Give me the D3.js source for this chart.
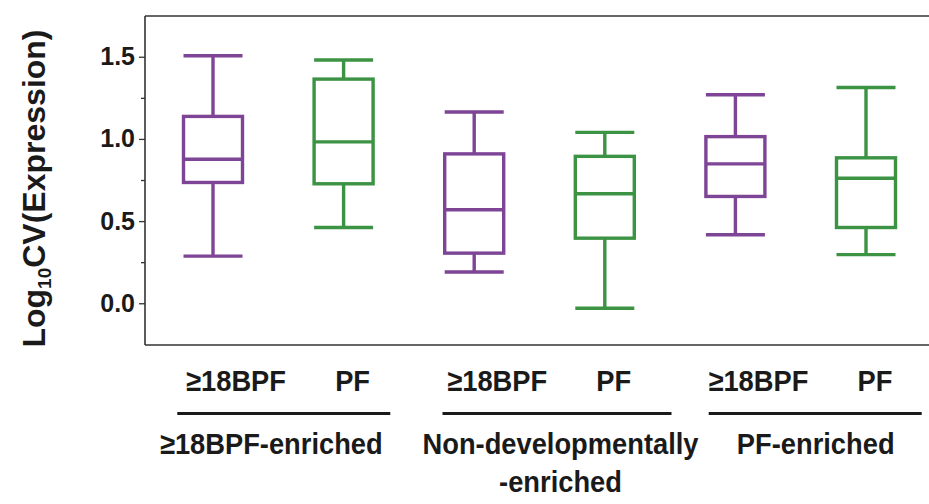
<!DOCTYPE html>
<html>
<head>
<meta charset="utf-8">
<script src="https://cdn.jsdelivr.net/npm/d3@7"></script>
<style>
  html, body { margin: 0; padding: 0; background: #fff; }
  svg { display: block; }
  text { font-family: "Liberation Sans", Arial, sans-serif; fill: #1a1a1a; }
</style>
</head>
<body>
<svg id="chart" width="929" height="504"></svg>
<script>
// ---- data ----
const groups = ["≥18BPF-enriched", "Non-developmentally|-enriched", "PF-enriched"];
const stages = ["≥18BPF", "PF"];
const boxIds = ["g1s1", "g1s2", "g2s1", "g2s2", "g3s1", "g3s2"];
const boxGroup = [0, 0, 1, 1, 2, 2];
const boxStage = [0, 1, 0, 1, 0, 1];
const whiskerLow  = [0.287, 0.461, 0.190, -0.030, 0.417, 0.296];
const q1          = [0.735, 0.727, 0.305, 0.396, 0.650, 0.461];
const median      = [0.876, 0.982, 0.569, 0.666, 0.848, 0.761];
const q3          = [1.137, 1.364, 0.909, 0.894, 1.014, 0.885];
const whiskerHigh = [1.506, 1.480, 1.164, 1.040, 1.269, 1.313];
const yTicks = [0.0, 0.5, 1.0, 1.5];
const yMinorTicks = [0.25, 0.75, 1.25];
const yDomain = [-0.254, 1.748];

// ---- layout ----
const svg = d3.select("#chart");
const plotLeft = 145, plotTop = 16, plotBottom = 345, plotRight = 929;
const colors = ["#7e4596", "#3b9343"];
const boxW = 59;

const y = d3.scaleLinear().domain(yDomain).range([plotBottom, plotTop]);
const x = d3.scalePoint().domain(boxIds).range([213, 866]);

// frame: top and bottom lines
svg.append("line").attr("x1", plotLeft).attr("x2", plotRight)
  .attr("y1", plotTop).attr("y2", plotTop)
  .attr("stroke", "#333").attr("stroke-width", 1.6);
svg.append("line").attr("x1", plotLeft).attr("x2", plotRight)
  .attr("y1", plotBottom).attr("y2", plotBottom)
  .attr("stroke", "#333").attr("stroke-width", 1.6);

// y axis
const yAxis = d3.axisLeft(y).tickValues(yTicks).tickFormat(d3.format(".1f")).tickSize(6).tickPadding(4).tickSizeOuter(0);
const yg = svg.append("g").attr("transform", `translate(${plotLeft},0)`).call(yAxis);
yg.select(".domain").attr("stroke", "#333").attr("stroke-width", 1.6)
  .attr("d", `M0,${plotTop}V${plotBottom}`);
yg.selectAll(".tick line").attr("stroke", "#333").attr("stroke-width", 1.3);
yg.selectAll(".tick text").attr("font-size", 25).attr("font-weight", "bold")
  .attr("fill", "#222").style("font-family", "'Liberation Sans', Arial, sans-serif");
const yMinor = d3.axisLeft(y).tickValues(yMinorTicks).tickSize(4).tickFormat("");
const ymg = svg.append("g").attr("transform", `translate(${plotLeft},0)`).call(yMinor);
ymg.select(".domain").remove();
ymg.selectAll(".tick line").attr("stroke", "#333").attr("stroke-width", 1.3);

// y label
const yl = svg.append("text")
  .attr("transform", `translate(45,${(plotTop + plotBottom) / 2 + 8}) rotate(-90)`)
  .attr("text-anchor", "middle")
  .attr("font-size", 32).attr("font-weight", "bold");
yl.append("tspan").text("Log");
yl.append("tspan").attr("font-size", 19).attr("dy", 6).text("10");
yl.append("tspan").attr("dy", -6).text("CV(Expression)");

// boxes
const data = boxIds.map((id, i) => ({
  id, g: boxGroup[i], s: boxStage[i],
  lo: whiskerLow[i], q1: q1[i], med: median[i], q3: q3[i], hi: whiskerHigh[i]
}));
const bg = svg.append("g").selectAll("g").data(data).join("g")
  .attr("fill", "none")
  .attr("stroke", d => colors[d.s])
  .attr("stroke-width", 3.4);
bg.append("line").attr("x1", d => x(d.id)).attr("x2", d => x(d.id))
  .attr("y1", d => y(d.hi)).attr("y2", d => y(d.q3));
bg.append("line").attr("x1", d => x(d.id)).attr("x2", d => x(d.id))
  .attr("y1", d => y(d.q1)).attr("y2", d => y(d.lo));
bg.append("line").attr("x1", d => x(d.id) - boxW / 2).attr("x2", d => x(d.id) + boxW / 2)
  .attr("y1", d => y(d.hi)).attr("y2", d => y(d.hi));
bg.append("line").attr("x1", d => x(d.id) - boxW / 2).attr("x2", d => x(d.id) + boxW / 2)
  .attr("y1", d => y(d.lo)).attr("y2", d => y(d.lo));
bg.append("rect").attr("x", d => x(d.id) - boxW / 2).attr("width", boxW)
  .attr("y", d => y(d.q3)).attr("height", d => y(d.q1) - y(d.q3));
bg.append("line").attr("x1", d => x(d.id) - boxW / 2).attr("x2", d => x(d.id) + boxW / 2)
  .attr("y1", d => y(d.med)).attr("y2", d => y(d.med));

// x labels (stage)
const labelScale = 0.91;
const stageOffset = [23, 9];
svg.append("g").selectAll("text").data(data).join("text")
  .attr("transform", d => `translate(${x(d.id) + stageOffset[d.s]},391) scale(${labelScale},1)`)
  .attr("text-anchor", "middle").attr("font-size", 30).attr("font-weight", "bold")
  .text(d => stages[d.s]);

// group lines and labels
const lineLeft = [-101, -97, -92];
const lineRight = [112, 132, 121];
const labelShift = [-7, 21, 15];
const groupInfo = groups.map((g, gi) => {
  const ids = boxIds.filter((_, i) => boxGroup[i] === gi);
  const c = (x(ids[0]) + x(ids[1])) / 2;
  return { name: g, c, gi };
});
svg.append("g").selectAll("line").data(groupInfo).join("line")
  .attr("x1", d => d.c + lineLeft[d.gi]).attr("x2", d => d.c + lineRight[d.gi])
  .attr("y1", 413.5).attr("y2", 413.5)
  .attr("stroke", "#1a1a1a").attr("stroke-width", 3);
const gl = svg.append("g").selectAll("text").data(groupInfo).join("text")
  .attr("transform", d => `translate(${d.c + labelShift[d.gi]},454) scale(${labelScale},1)`)
  .attr("text-anchor", "middle").attr("font-size", 30).attr("font-weight", "bold");
gl.each(function(d) {
  const parts = d.name.split("|");
  const t = d3.select(this);
  parts.forEach((p, i) => {
    t.append("tspan").attr("x", 0).attr("dy", i === 0 ? 0 : 38).text(p);
  });
});
</script>
</body>
</html>
